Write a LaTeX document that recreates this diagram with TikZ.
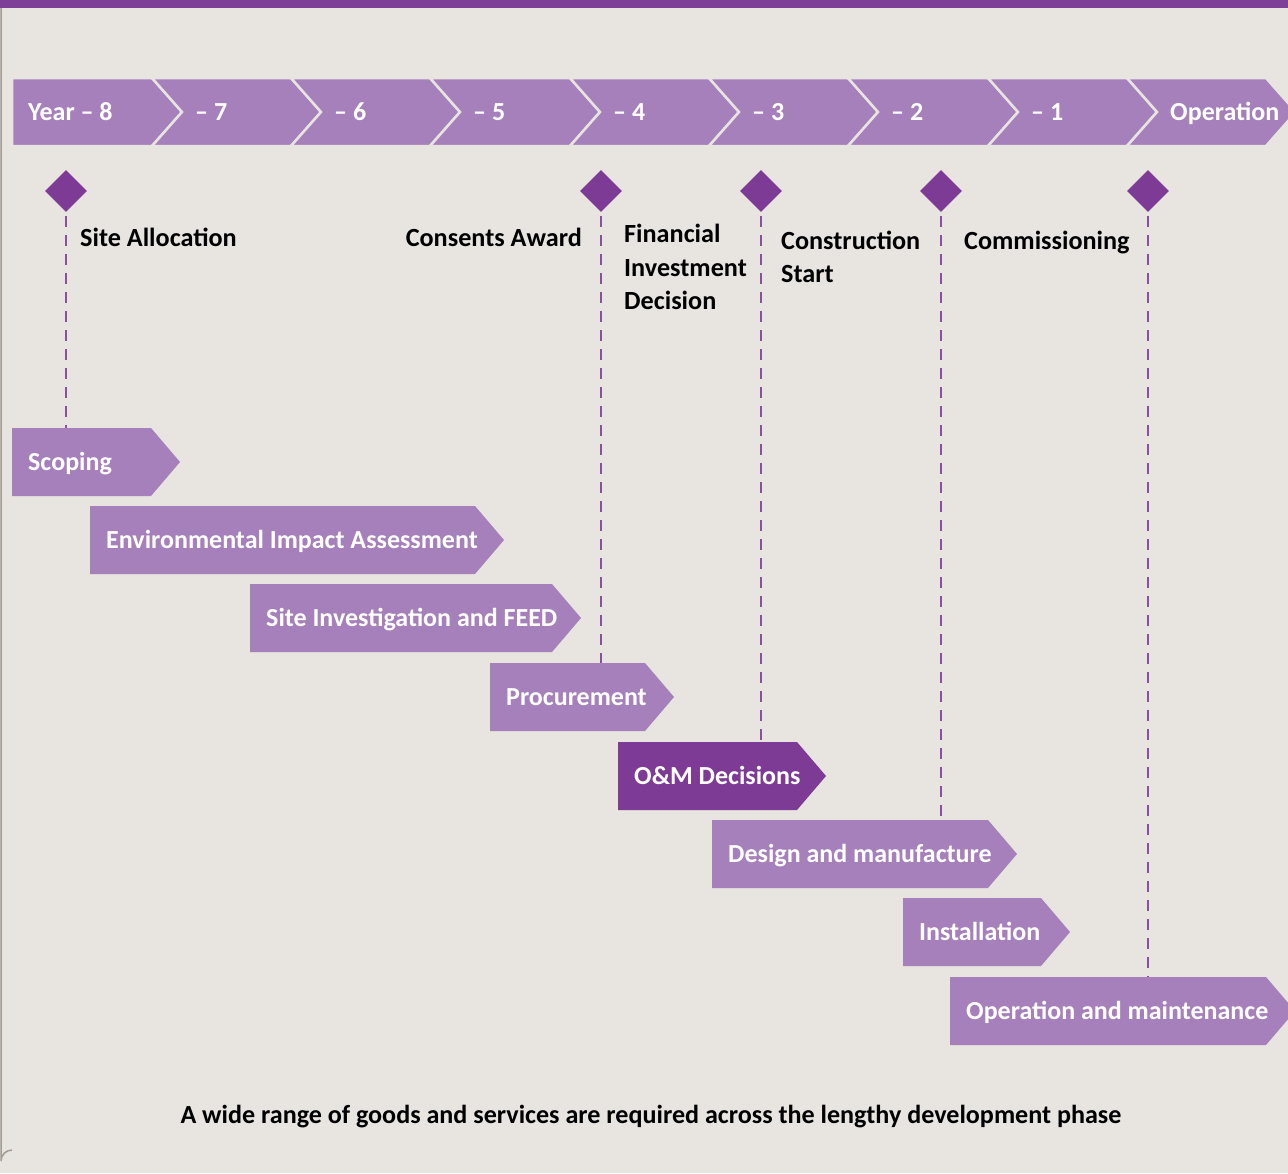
\documentclass[tikz,border=0pt]{standalone}
\usepackage{fontspec}
\setmainfont{Carlito}
\usetikzlibrary{shapes.geometric}
\definecolor{bgc}{HTML}{E8E4E0}
\definecolor{lp}{HTML}{A680BA}
\definecolor{dp}{HTML}{7E3B96}
\definecolor{tb}{HTML}{7E3F98}
\definecolor{dl}{HTML}{8A4FA3}
\definecolor{fr}{HTML}{A39A94}
\newcommand\tbar[6]{%
  \node[anchor=north west, minimum width=#3-#2, minimum height=68, inner sep=0pt, outer sep=0pt] (#1) at (#2,#4) {};
  \fill[#5] (#1.north west) -- (#1.north east) -- ([xshift=29pt]#1.east) -- (#1.south east) -- (#1.south west) -- cycle;
  \node[bartext, anchor=west] (#1-t) at ([xshift=16pt]#1.west) {#6};
}
\newcommand\yseg[4]{% name, L, R, text
  \fill[lp, draw=bgc, line width=2.5pt] (#2,78) -- (#3,78) -- (#3+30,112) -- (#3,146) -- (#2,146) -- (#2+30,112) -- cycle;
  \node[bartext, anchor=west] (#1) at (#2+43,112) {#4};
}
\begin{document}
\begin{tikzpicture}[x=1pt,y=-1pt,
  bartext/.style={text=white, font=\fontsize{26}{31}\selectfont\bfseries, inner sep=0pt, text height=16.7pt, text depth=0pt},
  mstext/.style={text=black, font=\fontsize{26.2}{31}\selectfont\bfseries, inner sep=0pt},
  milestone/.style={diamond, fill=dp, minimum width=42pt, minimum height=42pt, inner sep=0pt},
  msline/.style={dl, line width=1.4pt, dash pattern=on 11pt off 8pt}]
\clip (0,0) rectangle (1288,1173);
\fill[bgc] (0,0) rectangle (1288,1173);
\fill[tb] (0,0) rectangle (1288,8);
\draw[fr, line width=1.5pt] (1,8) -- (1,1161) arc[start angle=180, end angle=270, radius=11];
% year chevrons
\fill[lp, draw=bgc, line width=2.5pt] (12,78) -- (152,78) -- (182,112) -- (152,146) -- (12,146) -- cycle;
\node[bartext, anchor=west] (y8) at (28,112) {Year – 8};
\yseg{y7}{152}{291}{– 7}
\yseg{y6}{291}{430}{– 6}
\yseg{y5}{430}{570}{– 5}
\yseg{y4}{570}{709}{– 4}
\yseg{y3}{709}{848}{– 3}
\yseg{y2}{848}{988}{– 2}
\yseg{y1}{988}{1127}{– 1}
\yseg{y0}{1127}{1266}{Operation}
% milestones
\node[milestone] (d1) at (66,191) {};
\node[milestone] (d2) at (601,191) {};
\node[milestone] (d3) at (761,191) {};
\node[milestone] (d4) at (941,191) {};
\node[milestone] (d5) at (1148,191) {};
\node[mstext, anchor=base west] (m1) at (80,246) {Site Allocation};
\node[mstext, anchor=base east] (m2) at (582,246) {Consents Award};
\node[mstext, anchor=base west] (m3a) at (624,242) {Financial};
\node[mstext, anchor=base west] (m3b) at (624,276) {Investment};
\node[mstext, anchor=base west] (m3c) at (624,309) {Decision};
\node[mstext, anchor=base west] (m4a) at (781,249) {Construction};
\node[mstext, anchor=base west] (m4b) at (781,282) {Start};
\node[mstext, anchor=base west] (m5) at (964,249) {Commissioning};
% task bars
\tbar{scop}{12}{151}{428}{lp}{Scoping}
\tbar{eia}{90}{475}{506}{lp}{Environmental Impact Assessment}
\tbar{sif}{250}{552}{584}{lp}{Site Investigation and FEED}
\tbar{proc}{490}{645}{663}{lp}{Procurement}
\tbar{omd}{618}{797}{742}{dp}{O\&M Decisions}
\tbar{dm}{712}{988}{820}{lp}{Design and manufacture}
\tbar{inst}{903}{1041}{898}{lp}{Installation}
\tbar{opm}{950}{1266}{977}{lp}{Operation and maintenance}
% connectors
\draw[msline] ([yshift=-4pt]d1.south) -- (d1.south |- scop.north);
\draw[msline] ([yshift=-4pt]d2.south) -- (d2.south |- proc.north);
\draw[msline] ([yshift=-4pt]d3.south) -- (d3.south |- omd.north);
\draw[msline] ([yshift=-4pt]d4.south) -- (d4.south |- dm.north);
\draw[msline] ([yshift=-4pt]d5.south) -- (d5.south |- opm.north);
% caption
\node[text=black, font=\fontsize{26.1}{31}\selectfont\bfseries, inner sep=0pt, anchor=base] (cap) at (651,1123) {A wide range of goods and services are required across the lengthy development phase};
\end{tikzpicture}
\end{document}
